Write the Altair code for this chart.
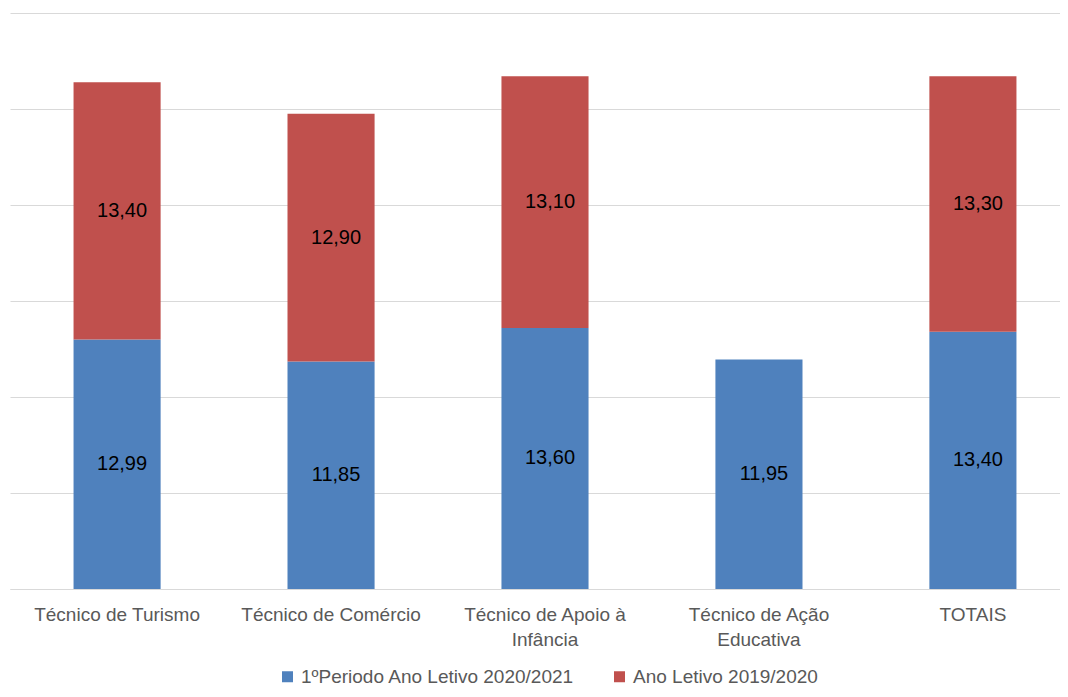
import altair as alt
import pandas as pd

categories = ["Técnico de Turismo", "Técnico de Comércio", "Técnico de Apoio à Infância",
              "Técnico de Ação Educativa", "TOTAIS"]
periodo_2020_2021 = [12.99, 11.85, 13.60, 11.95, 13.40]
ano_2019_2020 = [13.40, 12.90, 13.10, None, 13.30]
series_names = ["1ºPeriodo Ano Letivo 2020/2021", "Ano Letivo 2019/2020"]
series_colors = ["#4F81BD", "#C0504D"]
y_ticks = [0, 5, 10, 15, 20, 25, 30]

rows = []
for i, c in enumerate(categories):
    for s_i, vals in enumerate([periodo_2020_2021, ano_2019_2020]):
        v = vals[i]
        if v is None:
            continue
        rows.append({"cat": c, "serie": series_names[s_i], "valor": v, "ordem": s_i})
df = pd.DataFrame(rows)

font = "Liberation Sans"

label_expr = ("datum.label == 'Técnico de Apoio à Infância' ? ['Técnico de Apoio à', 'Infância'] : "
              "datum.label == 'Técnico de Ação Educativa' ? ['Técnico de Ação', 'Educativa'] : datum.label")

x_enc = alt.X(
    "cat:N", sort=categories, title=None,
    scale=alt.Scale(range=[0, 1070], paddingInner=0.593, paddingOuter=0.297),
    axis=alt.Axis(labelAngle=0, labelExpr=label_expr, labelFontSize=19, labelColor="#595959",
                  labelFont=font, labelPadding=16, labelLineHeight=25, ticks=False,
                  domainColor="#D9D9D9", domainWidth=1, grid=False, labelLimit=0),
)

bars = alt.Chart(df).mark_bar().encode(
    x=x_enc,
    y=alt.Y("valor:Q", stack="zero", title=None,
            scale=alt.Scale(domain=[0, 30]),
            axis=alt.Axis(values=y_ticks, labels=False, ticks=False, domain=False,
                          gridColor="#D9D9D9", gridWidth=1)),
    color=alt.Color("serie:N", sort=series_names,
                    scale=alt.Scale(domain=series_names, range=series_colors),
                    legend=alt.Legend(title=None, orient="none", direction="horizontal",
                                      legendX=268, legendY=654, symbolType="square",
                                      symbolSize=121, symbolStrokeWidth=0, labelFontSize=19,
                                      labelFont=font, labelColor="#595959", labelOffset=4,
                                      columnPadding=35, padding=0, labelLimit=0)),
    order=alt.Order("ordem:Q"),
)

labels = alt.Chart(df).transform_stack(
    stack="valor", groupby=["cat"], sort=[alt.SortField("ordem")], as_=["v0", "v1"]
).transform_calculate(
    mid="(datum.v0 + datum.v1) / 2",
    lbl="replace(format(datum.valor, '.2f'), '.', ',')",
).mark_text(dx=5, fontSize=20, font=font, color="#000000", baseline="middle").encode(
    x=alt.X("cat:N", sort=categories),
    y=alt.Y("mid:Q"),
    text="lbl:N",
)

chart = alt.layer(bars, labels).properties(
    width=1050, height=576,
    padding={"left": 2, "top": 5, "right": 0, "bottom": 100},
    autosize=alt.AutoSizeParams(type="none"),
).configure_view(stroke=None)

chart.save("out.html", embed_options={"renderer": "svg", "actions": False})
